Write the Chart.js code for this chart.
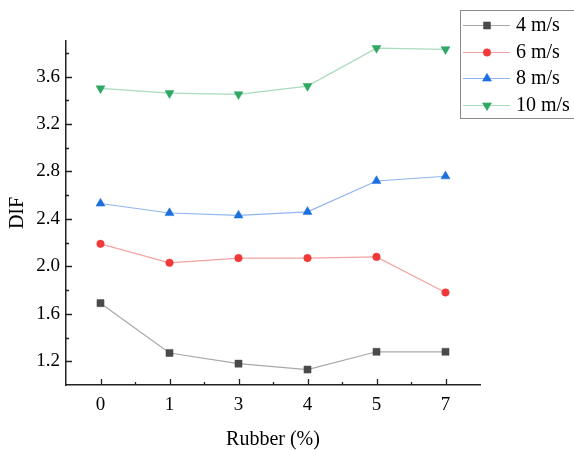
<!DOCTYPE html>
<html lang="en">
<head>
    <meta charset="UTF-8">
    <title>DIF vs Rubber</title>
    <script src="https://cdn.jsdelivr.net/npm/chart.js"></script>
    <style>
        html, body { margin: 0; padding: 0; background: #fff; }
        #wrap { width: 574px; height: 450px; }
    </style>
</head>
<body>
    <div id="wrap"><canvas id="difChart" width="574" height="450"></canvas></div>

    <script>
        // data
        const rubber = ["0", "1", "3", "4", "5", "7"];
        const dif4 = [1.69, 1.27, 1.18, 1.13, 1.28, 1.28];
        const dif6 = [2.19, 2.03, 2.07, 2.07, 2.08, 1.78];
        const dif8 = [2.53, 2.45, 2.43, 2.46, 2.72, 2.76];
        const dif10 = [3.50, 3.46, 3.45, 3.52, 3.84, 3.83];
        const yTicks = [1.2, 1.6, 2.0, 2.4, 2.8, 3.2, 3.6];
        const seriesNames = ["4 m/s", "6 m/s", "8 m/s", "10 m/s"];

        const serif = "'Liberation Serif', 'Times New Roman', serif";

        const styles = [
            {line: "#a8a8a8", fill: "#4a4a4a", point: "rect", radius: 5, rot: 0},
            {line: "#f4a3a3", fill: "#f03a3a", point: "circle", radius: 3.8, rot: 0},
            {line: "#8fb6ee", fill: "#1b6fde", point: "triangle", radius: 5.2, rot: 0},
            {line: "#a9dcbc", fill: "#2fa863", point: "triangle", radius: 5.2, rot: 180}
        ];

        const allData = [dif4, dif6, dif8, dif10];

        const datasets = allData.map((d, i) => ({
            label: seriesNames[i],
            data: d,
            borderColor: styles[i].line,
            borderWidth: 1.2,
            backgroundColor: styles[i].fill,
            pointStyle: styles[i].point,
            pointRadius: styles[i].radius,
            pointRotation: styles[i].rot,
            pointBackgroundColor: styles[i].fill,
            pointBorderColor: styles[i].fill,
            pointBorderWidth: 0.5,
            tension: 0,
            fill: false
        }));

        // inward major/minor ticks like the original plot
        const innerTicks = {
            id: "innerTicks",
            afterDraw(chart) {
                const c = chart.ctx;
                const xs = chart.scales.x;
                const ys = chart.scales.y;
                const left = chart.chartArea.left;
                const bottom = chart.chartArea.bottom;
                c.save();
                c.strokeStyle = "#222";
                c.lineWidth = 1.3;
                c.beginPath();
                for (let v = 1.2; v < 3.85; v += 0.2) {
                    const py = Math.round(ys.getPixelForValue(v)) + 0.5;
                    const major = yTicks.some(t => Math.abs(t - v) < 1e-6);
                    c.moveTo(left, py);
                    c.lineTo(left + (major ? 6 : 3), py);
                }
                for (let i = 0; i < rubber.length; i++) {
                    const px = Math.round(xs.getPixelForValue(i)) + 0.5;
                    c.moveTo(px, bottom);
                    c.lineTo(px, bottom - 6);
                    if (i < rubber.length - 1) {
                        const pm = Math.round(xs.getPixelForValue(i + 0.5)) + 0.5;
                        c.moveTo(pm, bottom);
                        c.lineTo(pm, bottom - 3);
                    }
                }
                c.stroke();
                c.restore();
            }
        };

        // legend box in the upper right corner
        const boxLegend = {
            id: "boxLegend",
            afterDraw(chart) {
                const c = chart.ctx;
                c.save();
                c.fillStyle = "#fff";
                c.fillRect(460.5, 10.5, 120, 108);
                c.strokeStyle = "#8a8a8a";
                c.lineWidth = 1;
                c.strokeRect(460.5, 10.5, 120, 108);
                const rowY = [25, 52, 78, 105];
                c.font = "20px " + serif;
                c.textBaseline = "middle";
                c.textAlign = "left";
                seriesNames.forEach((name, i) => {
                    const s = styles[i];
                    c.strokeStyle = s.line;
                    c.lineWidth = 1.2;
                    c.beginPath();
                    c.moveTo(463, rowY[i] + 0.5);
                    c.lineTo(510, rowY[i] + 0.5);
                    c.stroke();
                    c.fillStyle = s.fill;
                    c.strokeStyle = s.fill;
                    c.lineWidth = 0.5;
                    Chart.helpers.drawPoint(c, {pointStyle: s.point, radius: s.radius, rotation: s.rot, borderWidth: 0.5}, 487, rowY[i] + 0.5);
                    c.fillStyle = "#000";
                    c.fillText(name, 516, rowY[i] + 1);
                });
                c.restore();
            }
        };

        const ctx = document.getElementById("difChart").getContext("2d");
        const difChart = new Chart(ctx, {
            type: "line",
            data: {labels: rubber, datasets: datasets},
            plugins: [innerTicks, boxLegend],
            options: {
                responsive: false,
                animation: false,
                devicePixelRatio: 1,
                layout: {padding: {top: 41, right: 94, left: 0, bottom: 0}},
                plugins: {
                    legend: {display: false},
                    tooltip: {enabled: false}
                },
                scales: {
                    x: {
                        type: "category",
                        offset: true,
                        grid: {display: false, drawTicks: false},
                        border: {display: true, color: "#222", width: 1.5},
                        ticks: {color: "#000", padding: 9, font: {family: serif, size: 19}},
                        title: {display: true, text: "Rubber (%)", color: "#000", padding: 0,
                            font: {family: serif, size: 20, lineHeight: 1}},
                        afterFit(s) { s.height = 65; }
                    },
                    y: {
                        min: 1.0,
                        max: 3.9,
                        grid: {display: false, drawTicks: false},
                        border: {display: true, color: "#222", width: 1.5},
                        afterBuildTicks(s) { s.ticks = yTicks.map(v => ({value: v})); },
                        ticks: {color: "#000", padding: 6, font: {family: serif, size: 19},
                            callback: v => Number(v).toFixed(1)},
                        title: {display: true, text: "DIF", color: "#000", padding: {top: 8, bottom: 0},
                            font: {family: serif, size: 20, lineHeight: 1}},
                        afterFit(s) { s.width = 66; }
                    }
                }
            }
        });
    </script>
</body>
</html>
